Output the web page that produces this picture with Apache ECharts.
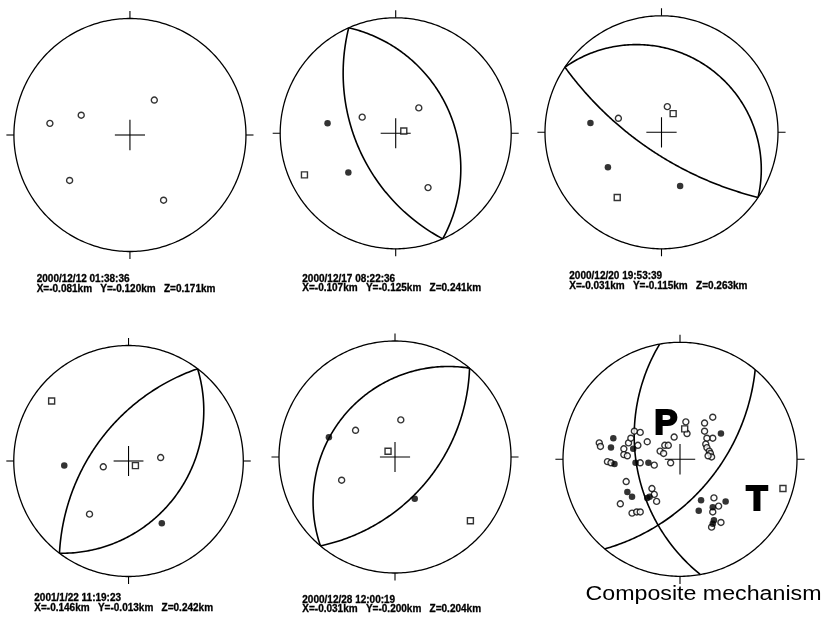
<!DOCTYPE html>
<html><head><meta charset="utf-8">
<script src="https://cdn.jsdelivr.net/npm/echarts@6/dist/echarts.min.js"></script>
<style>html,body{margin:0;padding:0;background:#fff}#c{width:824px;height:617px}</style>
</head><body><div id="c"></div>
<script>
// ---------------- DATA ----------------
const captionDates = ["2000/12/12 01:38:36", "2000/12/17 08:22:36", "2000/12/20 19:53:39", "2001/1/22 11:19:23", "2000/12/28 12:00:19", ""];
const captionCoords = [
  "X=-0.081km   Y=-0.120km   Z=0.171km",
  "X=-0.107km   Y=-0.125km   Z=0.241km",
  "X=-0.031km   Y=-0.115km   Z=0.263km",
  "X=-0.146km   Y=-0.013km   Z=0.242km",
  "X=-0.031km   Y=-0.200km   Z=0.204km",
  ""
];
const compositeLabel = "Composite mechanism";
const axisLabels = ["P", "T"];
// nodal planes (strike, dip in degrees), lower hemisphere, per plot
const planeStrikes = [[], [156, 336], [304, 124], [217, 37], [220, 40], [170, 40]];
const planeDips    = [[], [52, 37],   [21, 70],   [56, 36],  [31, 52],  [49, 56]];
// polarity observations, normalized stereonet coords [east, north]
const openCircles = [
  [[-0.69,0.10],[-0.42,0.17],[0.21,0.30],[-0.52,-0.39],[0.29,-0.56]],
  [[-0.29,0.14],[0.20,0.22],[0.28,-0.47]],
  [[-0.37,0.12],[0.05,0.22]],
  [[-0.22,-0.05],[0.28,0.03],[-0.34,-0.46]],
  [[-0.34,0.23],[0.05,0.32],[-0.46,-0.20]],
  [[-0.69,0.14],[-0.68,0.11],[-0.62,-0.02],[-0.59,-0.03],[-0.48,0.09],[-0.48,0.04],[-0.45,0.03],
   [-0.44,0.14],[-0.42,0.18],[-0.36,0.12],[-0.39,0.24],[-0.34,0.23],[-0.28,0.15],[-0.22,-0.05],
   [-0.34,-0.03],[-0.17,0.07],[-0.14,0.05],[-0.13,0.12],[-0.10,0.12],[-0.08,-0.03],[-0.05,0.19],
   [0.05,0.32],[0.06,0.22],[0.21,0.31],[0.21,0.24],[0.28,0.36],[0.28,0.18],[0.23,0.18],
   [0.22,0.13],[0.23,0.10],[0.25,0.07],[0.26,0.05],[0.27,0.02],[0.24,0.03],[-0.46,-0.19],
   [-0.51,-0.38],[-0.41,-0.46],[-0.37,-0.45],[-0.34,-0.45],[-0.24,-0.25],[-0.22,-0.30],
   [-0.20,-0.36],[0.29,-0.33],[0.33,-0.40],[0.28,-0.45],[0.35,-0.54],[0.27,-0.58]]
];
const filledCircles = [
  [],
  [[-0.59,0.086],[-0.41,-0.34]],
  [[-0.61,0.08],[-0.46,-0.30],[0.16,-0.46]],
  [[-0.56,-0.04],[0.29,-0.54]],
  [[-0.57,0.17],[0.17,-0.36]],
  [[-0.57,0.18],[-0.59,0.10],[-0.56,-0.04],[-0.40,0.09],[-0.38,-0.03],[-0.27,-0.03],[0.35,0.22],
   [-0.45,-0.28],[-0.41,-0.32],[-0.28,-0.33],[-0.26,-0.32],[0.18,-0.35],[0.16,-0.44],
   [0.28,-0.41],[0.39,-0.36],[0.29,-0.52],[0.28,-0.55]]
];
const squares = [
  [],
  [[0.07,0.02],[-0.79,-0.36]],
  [[0.10,0.16],[-0.38,-0.56]],
  [[-0.67,0.52],[0.06,-0.04]],
  [[-0.06,0.05],[0.65,-0.55]],
  [[0.04,0.26],[0.88,-0.25]]
];

// ---------------- LAYOUT ----------------
const layout = [
  {cx:129.4, cy:135.0, r:116.5},
  {cx:395.7, cy:133.3, r:115.5},
  {cx:661.5, cy:132.3, r:116.5},
  {cx:127.7, cy:461.0, r:115.5},
  {cx:395.0, cy:457.0, r:116.0},
  {cx:680.0, cy:459.3, r:117.0}
];
const captionPos = [[36.7,274.5],[302.3,274],[569.3,271.8],[34.3,593.5],[302.3,595.2]];
const EXT = 1.12;

function projPlane(strike, dip){
  const s = strike*Math.PI/180, d = dip*Math.PI/180, pts = [];
  for (let k = 0; k <= 180; k++) {
    const t = k*Math.PI/180;
    const vN = Math.cos(t)*Math.cos(s) - Math.sin(t)*Math.sin(s)*Math.cos(d);
    const vE = Math.cos(t)*Math.sin(s) + Math.sin(t)*Math.cos(s)*Math.cos(d);
    const vD = Math.sin(t)*Math.sin(d);
    const p = Math.asin(Math.max(-1, Math.min(1, vD)));
    const tr = Math.atan2(vE, vN);
    const rr = Math.tan(Math.PI/4 - p/2);
    pts.push([rr*Math.sin(tr), rr*Math.cos(tr)]);
  }
  return pts;
}
function circlePts(){
  const pts = [];
  for (let k = 0; k <= 360; k++) { const a = k*Math.PI/180; pts.push([Math.cos(a), Math.sin(a)]); }
  return pts;
}

const grid = [], xAxis = [], yAxis = [], series = [];
layout.forEach((L, i) => {
  grid.push({left: L.cx - EXT*L.r, top: L.cy - EXT*L.r, width: 2*EXT*L.r, height: 2*EXT*L.r});
  xAxis.push({type:'value', gridIndex:i, min:-EXT, max:EXT, show:false});
  yAxis.push({type:'value', gridIndex:i, min:-EXT, max:EXT, show:false});
  const frame = [
    {coords: circlePts(), lineStyle:{width:1.3}},
    {coords: [[0,1],[0,1.065]]}, {coords: [[0,-1],[0,-1.065]]},
    {coords: [[1,0],[1.065,0]]}, {coords: [[-1,0],[-1.065,0]]},
    {coords: [[-0.13,0],[0.13,0]]}, {coords: [[0,-0.13],[0,0.13]]}
  ];
  planeStrikes[i].forEach((s, j) => frame.push({coords: projPlane(s, planeDips[i][j]), lineStyle:{width:1.6}}));
  series.push({
    type:'lines', coordinateSystem:'cartesian2d', xAxisIndex:i, yAxisIndex:i, polyline:true,
    silent:true, lineStyle:{color:'#000', width:1.1, opacity:1}, data: frame, z:1
  });
  series.push({type:'scatter', xAxisIndex:i, yAxisIndex:i, symbol:'circle', symbolSize:6, silent:true,
    itemStyle:{color:'#fff', borderColor:'#000', borderWidth:1.4}, data: openCircles[i], z:3});
  series.push({type:'scatter', xAxisIndex:i, yAxisIndex:i, symbol:'circle', symbolSize:6.5, silent:true,
    itemStyle:{color:'#000'}, data: filledCircles[i], z:4});
  series.push({type:'scatter', xAxisIndex:i, yAxisIndex:i, symbol:'rect', symbolSize:6, silent:true,
    itemStyle:{color:'#fff', borderColor:'#000', borderWidth:1.4}, data: squares[i], z:3});
});

const graphic = [];
captionPos.forEach((p, i) => {
  graphic.push({type:'text', x:p[0], y:p[1], silent:true,
    style:{text: captionDates[i] + '\n' + captionCoords[i], fill:'#000', stroke:'#000', lineWidth:0.3,
      font:'bold 10px "Liberation Sans", Arial, sans-serif', lineHeight:9.5,
      align:'left', verticalAlign:'top', textAlign:'left', textVerticalAlign:'top'}});
});
graphic.push({type:'text', x:666, y:424, silent:true,
  style:{text: axisLabels[0], fill:'#000', stroke:'#000', lineWidth:2, font:'bold 35px "Liberation Sans", Arial, sans-serif',
    align:'center', verticalAlign:'middle', textAlign:'center', textVerticalAlign:'middle'}, z:10});
graphic.push({type:'text', x:757, y:500, silent:true,
  style:{text: axisLabels[1], fill:'#000', stroke:'#000', lineWidth:2, font:'bold 35px "Liberation Sans", Arial, sans-serif',
    align:'center', verticalAlign:'middle', textAlign:'center', textVerticalAlign:'middle'}, z:10});
graphic.push({type:'text', x:703.5, y:594, scaleX:1.16, originX:0, silent:true,
  style:{text: compositeLabel, fill:'#000', font:'20px "Liberation Sans", Arial, sans-serif',
    align:'center', verticalAlign:'middle', textAlign:'center', textVerticalAlign:'middle'}});

const chart = echarts.init(document.getElementById('c'), null, {renderer:'canvas'});
chart.setOption({animation:false, backgroundColor:'#fff', grid, xAxis, yAxis, series, graphic});
</script></body></html>
